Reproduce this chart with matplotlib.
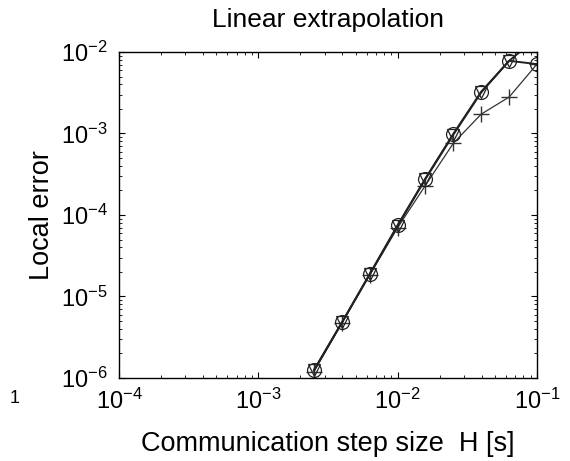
import numpy as np
import matplotlib
matplotlib.use("Agg")
import matplotlib.pyplot as plt
from matplotlib.ticker import LogLocator

plt.rcParams['font.family'] = ['Liberation Sans', 'DejaVu Sans']
plt.rcParams['mathtext.default'] = 'regular'

# ── data ──────────────────────────────────────────────────────────────────────
step_H = [0.1, 0.0631, 0.0398, 0.0251, 0.0158, 0.01, 0.00631, 0.00398, 0.00251]
err_circle = [7.1e-3, 7.8e-3, 3.26e-3, 9.9e-4, 2.8e-4, 7.5e-5, 1.89e-5, 4.8e-6, 1.25e-6]
err_tri = [1.5e-2, 7.8e-3, 3.2e-3, 9.7e-4, 2.75e-4, 7.4e-5, 1.88e-5, 4.8e-6, 1.25e-6]
err_plus = [7.1e-3, 2.8e-3, 1.73e-3, 7.6e-4, 2.3e-4, 7.0e-5, 1.85e-5, 4.7e-6, 1.2e-6]

fig = plt.figure(figsize=(5.7, 4.61), dpi=100, facecolor="white")
ax = fig.add_axes([119/570, 1 - 378/461, (537 - 119)/570, (378 - 52)/461])

ax.plot(step_H, err_plus, color="#333333", lw=0.9, marker="+", ms=11,
        mew=1.0, mfc="none")
ax.plot(step_H, err_circle, color="#222222", lw=1.4, marker="o", ms=10,
        mew=0.9, mfc="none")
ax.plot(step_H, err_tri, color="#222222", lw=1.4, marker="v", ms=8,
        mew=0.9, mfc="none")

ax.set_xscale("log")
ax.set_yscale("log")
ax.set_xlim(1e-4, 1e-1)
ax.set_ylim(1e-6, 1e-2)

ax.xaxis.set_major_locator(LogLocator(base=10, numticks=10))
ax.yaxis.set_major_locator(LogLocator(base=10, numticks=10))
ax.tick_params(which="both", direction="in", top=True, right=True,
               labelsize=17, pad=8)
ax.tick_params(which="major", length=4, width=0.8)
ax.tick_params(which="minor", length=2, width=0.6)
for sp in ax.spines.values():
    sp.set_linewidth(1.0)

ax.set_title("Linear extrapolation", fontsize=19, pad=18)
ax.set_xlabel("Communication step size  H [s]", fontsize=19.5, labelpad=12)
ax.set_ylabel("Local error", fontsize=19.5, labelpad=4)

fig.text(10/570, 1 - 398/461, "1", fontsize=13, ha="left", va="center")

fig.savefig("out.png", dpi=100, facecolor="white")
